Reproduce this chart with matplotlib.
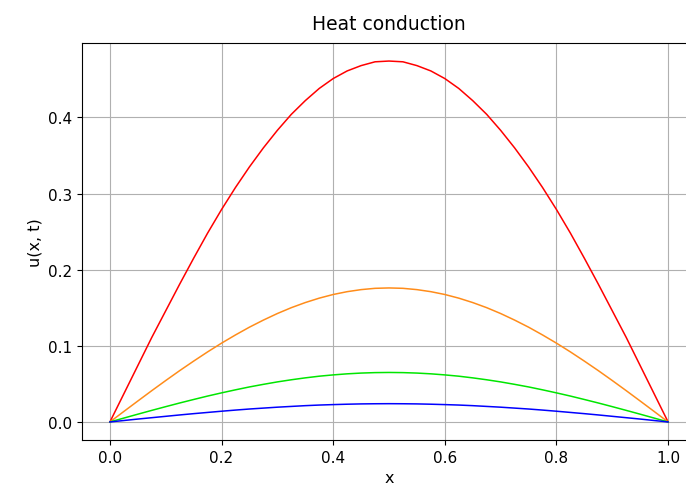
import matplotlib
matplotlib.use("Agg")
import matplotlib.pyplot as plt

# Temperature profiles u(x, t) along the rod at four successive times
x = [0.000, 0.025, 0.050, 0.075, 0.100, 0.125, 0.150, 0.175, 0.200, 0.225,
     0.250, 0.275, 0.300, 0.325, 0.350, 0.375, 0.400, 0.425, 0.450, 0.475,
     0.500, 0.525, 0.550, 0.575, 0.600, 0.625, 0.650, 0.675, 0.700, 0.725,
     0.750, 0.775, 0.800, 0.825, 0.850, 0.875, 0.900, 0.925, 0.950, 0.975, 1.000]

u_t1 = [0.000, 0.037, 0.074, 0.111, 0.146, 0.181, 0.215, 0.248, 0.279, 0.308,
        0.335, 0.360, 0.383, 0.404, 0.422, 0.438, 0.451, 0.461, 0.468, 0.473,
        0.474, 0.473, 0.468, 0.461, 0.451, 0.438, 0.422, 0.404, 0.383, 0.360,
        0.335, 0.308, 0.279, 0.248, 0.215, 0.181, 0.146, 0.111, 0.074, 0.037, 0.000]
u_t2 = [0.0000, 0.0138, 0.0275, 0.0411, 0.0544, 0.0674, 0.0799, 0.0920, 0.1035, 0.1143,
        0.1245, 0.1338, 0.1424, 0.1501, 0.1568, 0.1626, 0.1674, 0.1711, 0.1738, 0.1755,
        0.1760, 0.1755, 0.1738, 0.1711, 0.1674, 0.1626, 0.1568, 0.1501, 0.1424, 0.1338,
        0.1245, 0.1143, 0.1035, 0.0920, 0.0799, 0.0674, 0.0544, 0.0411, 0.0275, 0.0138, 0.0000]
u_t3 = [0.0000, 0.0051, 0.0102, 0.0152, 0.0201, 0.0249, 0.0295, 0.0340, 0.0382, 0.0422,
        0.0460, 0.0494, 0.0526, 0.0554, 0.0579, 0.0601, 0.0618, 0.0632, 0.0642, 0.0648,
        0.0650, 0.0648, 0.0642, 0.0632, 0.0618, 0.0601, 0.0579, 0.0554, 0.0526, 0.0494,
        0.0460, 0.0422, 0.0382, 0.0340, 0.0295, 0.0249, 0.0201, 0.0152, 0.0102, 0.0051, 0.0000]
u_t4 = [0.0000, 0.0019, 0.0038, 0.0056, 0.0074, 0.0092, 0.0109, 0.0125, 0.0141, 0.0156,
        0.0170, 0.0182, 0.0194, 0.0204, 0.0214, 0.0222, 0.0228, 0.0233, 0.0237, 0.0239,
        0.0240, 0.0239, 0.0237, 0.0233, 0.0228, 0.0222, 0.0214, 0.0204, 0.0194, 0.0182,
        0.0170, 0.0156, 0.0141, 0.0125, 0.0109, 0.0092, 0.0074, 0.0056, 0.0038, 0.0019, 0.0000]

profiles = [u_t1, u_t2, u_t3, u_t4]
colors = ["red", "#ff8c1a", "#00e600", "blue"]

W, H = 686, 502
fig = plt.figure(figsize=(W / 100, H / 100), dpi=100)
ax = fig.add_axes([82 / W, (H - 441) / H, (696 - 82) / W, (441 - 44) / H])

for u, c in zip(profiles, colors):
    ax.plot(x, u, color=c, linewidth=1.1)

ax.set_xticks([0.0, 0.2, 0.4, 0.6, 0.8, 1.0])
ax.set_yticks([0.0, 0.1, 0.2, 0.3, 0.4])
ax.tick_params(labelsize=11)
ax.grid(True)
ax.set_title("Heat conduction", fontsize=13.5, pad=10)
ax.set_xlabel("x", fontsize=11.5)
ax.set_ylabel("u(x, t)", fontsize=11.5)

fig.savefig("out.png", dpi=100)
